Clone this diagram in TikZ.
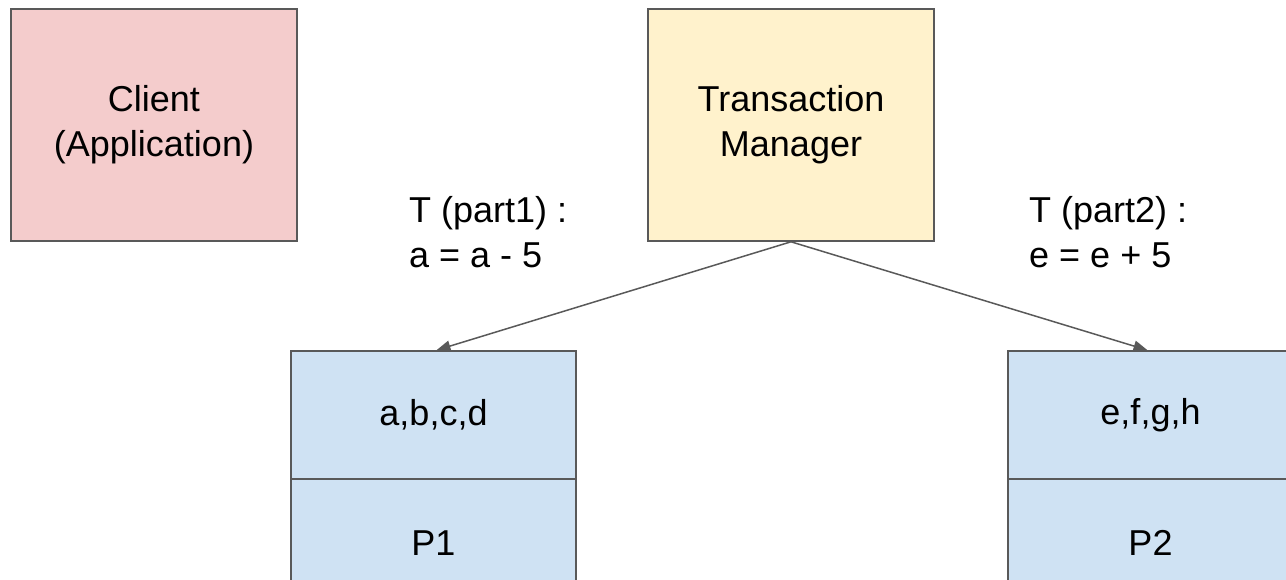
\documentclass[tikz,border=0pt]{standalone}
\usepackage{fontspec}
\setmainfont{Liberation Sans}
\usetikzlibrary{arrows.meta}
\definecolor{clientfill}{HTML}{F4CCCC}
\definecolor{tmfill}{HTML}{FFF2CC}
\definecolor{partfill}{HTML}{CFE2F3}
\definecolor{edge}{HTML}{595959}
\tikzset{
  box/.style={draw=edge, line width=1.6pt, minimum width=286pt, minimum height=232pt,
    inner sep=0pt, align=center, font=\fontsize{36}{45}\selectfont},
  cell/.style={draw=edge, line width=1.6pt, fill=partfill, minimum width=285pt,
    minimum height=128pt, inner sep=0pt, font=\fontsize{36}{45}\selectfont},
  note/.style={anchor=base west, inner sep=0pt, align=left, font=\fontsize{36}{45}\selectfont},
  arr/.style={draw=edge, line width=1.5pt, -{Triangle[length=14pt,width=11pt]}},
}
\begin{document}
\begin{tikzpicture}[x=1pt, y=-1pt]
  \useasboundingbox (0,0) rectangle (1286,580);
  \clip (0,0) rectangle (1286,580);
  \node[box, fill=clientfill] (client) at (154,125) {Client\\(Application)};
  \node[box, fill=tmfill] (tm) at (791,125) {Transaction\\Manager};
  % partition 1
  \node[cell] (p1data) at (433.5,415) {a,b,c,d};
  \node[cell] (p1name) at (433.5,543) {P1};
  % partition 2
  \node[cell] (p2data) at (1150.5,415) {e,f,g,h};
  \node[cell] (p2name) at (1150.5,543) {P2};
  % sub-transaction labels (anchored on the baseline of the last line)
  \node[note] (t1) at (409,268) {T (part1) :\\a = a - 5};
  \node[note] (t2) at (1029,268) {T (part2) :\\e = e + 5};
  % dispatch arrows
  \draw[arr] (tm.south) -- ([xshift=3pt]p1data.north);
  \draw[arr] (tm.south) -- ([xshift=-3pt]p2data.north);
\end{tikzpicture}
\end{document}
